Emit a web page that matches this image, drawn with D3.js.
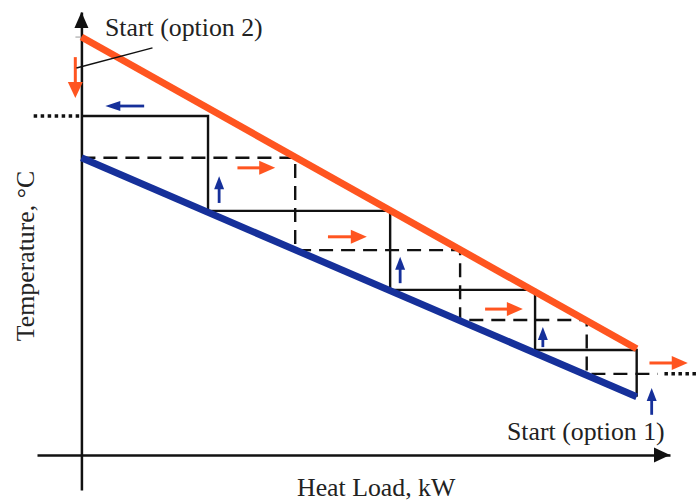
<!DOCTYPE html>
<html>
<head>
<meta charset="utf-8">
<script src="https://cdn.jsdelivr.net/npm/d3@7/dist/d3.min.js"></script>
<style>
  html, body { margin: 0; padding: 0; background: #fff; }
  svg { display: block; }
  text { font-family: "Liberation Serif", "Times New Roman", serif; fill: #222; }
</style>
</head>
<body>
<script>
// Heat load (0–100 %) and temperature (0–100 %) on a schematic, unitless scale.
const axisQ = [-8, 106];          // extent of the heat-load axis
const axisT = [-8.4, 106];        // extent of the temperature axis

// Hot and cold composite lines: [heat load, temperature]
const hotLine  = [[0, 100], [100, 25.4]];
const coldLine = [[0, 71.1], [100, 13.9]];

// Stepwise exchange paths between the two lines
const solidSteps  = [[0, 81.1], [22.8, 81.1], [22.8, 58.4], [55.6, 58.4], [55.6, 39.5],
                     [81.7, 39.5], [81.7, 25.1], [100, 25.1], [100, 13.9]];
const dashedSteps = [[0, 71.1], [38.5, 71.1], [38.5, 49.0], [68.2, 49.0], [68.2, 32.3],
                     [91.0, 32.3], [91.0, 19.4], [103.8, 19.4]];
const dottedLeft  = [[-8.6, 81.1], [0, 81.1]];
const dottedRight = [[105, 19.4], [111.3, 19.4]];

// Flow arrows: [from, to]
const orangeArrows = [
  [[-1.1, 95.2], [-1.1, 85.4]],
  [[28.1, 68.7], [34.9, 68.7]],
  [[44.4, 52.2], [51.4, 52.2]],
  [[72.7, 34.9], [79.5, 34.9]],
  [[102.3, 22.0], [109.2, 22.0]]
];
const blueArrows = [
  [[11.3, 83.5], [4.3, 83.5]],
  [[24.8, 60.3], [24.8, 66.7]],
  [[57.4, 41.1], [57.4, 47.4]],
  [[83.1, 25.8], [83.1, 30.6]],
  [[102.7, 9.6], [102.7, 16.0]]
];
const leader = [[-0.9, 92.6], [12.8, 97.4]];

const labels = {
  x: "Heat Load, kW",
  y: "Temperature, °C",
  start1: "Start (option 1)",
  start2: "Start (option 2)"
};

const W = 700, H = 501;
const ORANGE = "#ff5520", BLUE = "#16309a", INK = "#111";

const x = d3.scaleLinear().domain(axisQ).range([37, 670]);
const y = d3.scaleLinear().domain(axisT).range([490, 12]);

const svg = d3.select("body").append("svg").attr("width", W).attr("height", H);
const line = d3.line().x(d => x(d[0])).y(d => y(d[1]));

// Axes: plain domain lines through the origin, ending in arrowheads
const xAxis = d3.axisBottom(x).tickValues([]).tickSizeOuter(0);
const yAxis = d3.axisLeft(y).tickValues([]).tickSizeOuter(0);
svg.append("g").attr("transform", `translate(0,${y(0)})`).call(xAxis)
  .select(".domain").attr("stroke", INK).attr("stroke-width", 2.5);
svg.append("g").attr("transform", `translate(${x(0)},0)`).call(yAxis)
  .select(".domain").attr("stroke", INK).attr("stroke-width", 2.5);

// arrowheads on the axes
const xEnd = x(axisQ[1]), yEnd = y(axisT[1]);
svg.append("path")
  .attr("d", `M${xEnd},${y(0)} L${xEnd - 16},${y(0) - 7.5} L${xEnd - 16},${y(0) + 7.5}Z`)
  .attr("fill", INK);
svg.append("path")
  .attr("d", `M${x(0)},${yEnd} L${x(0) - 7},${yEnd + 16} L${x(0) + 7},${yEnd + 16}Z`)
  .attr("fill", INK);
// small mark at the top of the temperature axis
svg.append("line")
  .attr("x1", x(0) - 6).attr("x2", x(0)).attr("y1", y(100)).attr("y2", y(100))
  .attr("stroke", "#aaa").attr("stroke-width", 1.2);

// step paths
svg.append("path").datum(solidSteps).attr("d", line)
  .attr("fill", "none").attr("stroke", INK).attr("stroke-width", 2.4);
svg.append("path").datum(dashedSteps).attr("d", line)
  .attr("fill", "none").attr("stroke", INK).attr("stroke-width", 2.4)
  .attr("stroke-dasharray", "14,8");
[dottedLeft, dottedRight].forEach(seg => {
  svg.append("path").datum(seg).attr("d", line)
    .attr("fill", "none").attr("stroke", INK).attr("stroke-width", 3.5)
    .attr("stroke-dasharray", "3.5,3.5");
});

// composite lines
svg.append("path").datum(hotLine).attr("d", line)
  .attr("fill", "none").attr("stroke", ORANGE).attr("stroke-width", 7);
svg.append("path").datum(coldLine).attr("d", line)
  .attr("fill", "none").attr("stroke", BLUE).attr("stroke-width", 7);

// arrow drawing: shaft plus triangular head
function arrow(pair, color, headLen, headHalf, shaftW) {
  const [x0, y0] = [x(pair[0][0]), y(pair[0][1])];
  const [x1, y1] = [x(pair[1][0]), y(pair[1][1])];
  const len = Math.hypot(x1 - x0, y1 - y0);
  const ux = (x1 - x0) / len, uy = (y1 - y0) / len;
  const bx = x1 - ux * headLen, by = y1 - uy * headLen;
  svg.append("line")
    .attr("x1", x0).attr("y1", y0).attr("x2", bx + ux).attr("y2", by + uy)
    .attr("stroke", color).attr("stroke-width", shaftW);
  svg.append("path")
    .attr("d", `M${x1},${y1} L${bx - uy * headHalf},${by + ux * headHalf} L${bx + uy * headHalf},${by - ux * headHalf}Z`)
    .attr("fill", color);
}
orangeArrows.forEach((a, i) => arrow(a, ORANGE, 16, i === 0 ? 7.5 : 7, 3));
blueArrows.forEach((a, i) => arrow(a, BLUE, i === 0 ? 15 : 13, 5, 2.8));

// leader from the option-2 label to the axis
svg.append("path").datum(leader).attr("d", line)
  .attr("fill", "none").attr("stroke", INK).attr("stroke-width", 1.4);

// labels
svg.append("text").attr("x", 105).attr("y", 36).attr("font-size", 25.8).text(labels.start2);
svg.append("text").attr("x", 507).attr("y", 440).attr("font-size", 25.8).text(labels.start1);
svg.append("text").attr("x", 297).attr("y", 496).attr("font-size", 25.8).text(labels.x);
svg.append("text")
  .attr("transform", "translate(34,256) rotate(-90)")
  .attr("text-anchor", "middle").attr("font-size", 25.8).text(labels.y);
</script>
</body>
</html>
